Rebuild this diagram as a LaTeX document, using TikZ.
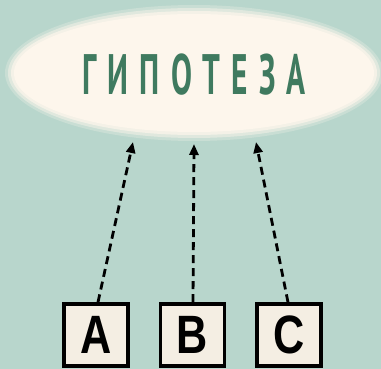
\documentclass[tikz,border=0pt]{standalone}
\usepackage{fontspec}
\setmainfont{PT Sans}
\newfontfamily\boxfont{Liberation Sans}
\usetikzlibrary{arrows.meta,shapes.geometric}
\definecolor{bg}{HTML}{B8D6CC}
\definecolor{cloud}{HTML}{FDF6EC}
\definecolor{cardfill}{HTML}{F4EEE3}
\definecolor{title}{HTML}{3F7A5F}
\tikzset{
  card/.style={draw=black, line width=3.6pt, fill=cardfill, minimum width=64pt,
    minimum height=62pt, inner sep=0pt, font=\boxfont\bfseries\fontsize{54}{54}\selectfont},
  link/.style={line width=2.8pt, dash pattern=on 8pt off 5pt,
    -{Triangle[length=11pt,width=9pt]}},
}
\begin{document}
\begin{tikzpicture}[x=1pt,y=-1pt]
  \fill[bg] (0,0) rectangle (381,369);
  \useasboundingbox (0,0) rectangle (381,369);
  % soft-edged cloud
  \fill[cloud, opacity=0.25] (194,73) ellipse [x radius=189, y radius=68];
  \fill[cloud, opacity=0.45] (194,73) ellipse [x radius=186, y radius=65];
  \fill[cloud, opacity=0.7] (194,73) ellipse [x radius=183, y radius=62];
  \node[ellipse, fill=cloud, minimum width=360pt, minimum height=118pt, inner sep=0pt]
    (hyp) at (194,73) {};
  \node[text=title, inner sep=0pt] (word) at (194,75)
    {\scalebox{0.55}[1]{\fontsize{57}{57}\selectfont\bfseries\addfontfeature{LetterSpace=36}ГИПОТЕЗА}};
  % evidence cards
  \node[card] (a) at (96,335) {\scalebox{0.8}[1]{A}};
  \node[card] (b) at (192.5,335) {\scalebox{0.8}[1]{B}};
  \node[card] (c) at (289,335) {\scalebox{0.8}[1]{C}};
  % arrow tips just below the cloud
  \coordinate (tA) at (133,142);
  \coordinate (tB) at (194,144);
  \coordinate (tC) at (256,142);
  \draw[link] ([xshift=2pt]a.north) -- (tA);
  \draw[link] ([xshift=0.5pt]b.north) -- (tB);
  \draw[link] ([xshift=-1pt]c.north) -- (tC);
\end{tikzpicture}
\end{document}
